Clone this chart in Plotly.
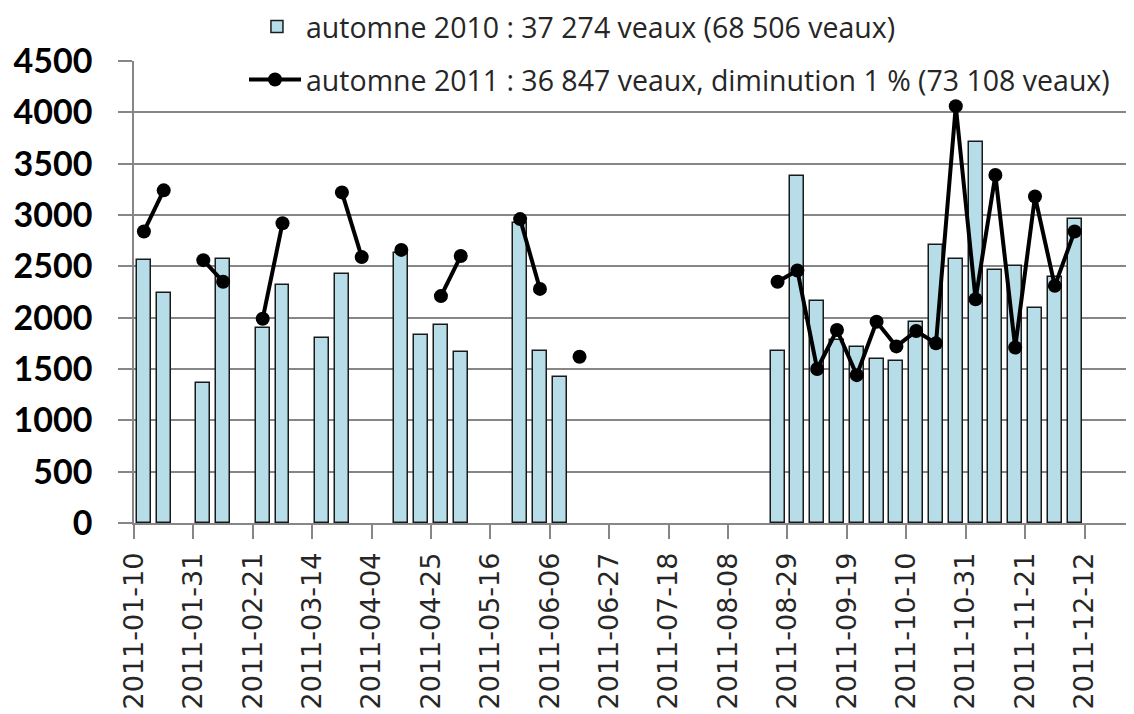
import plotly.graph_objects as go

# week index 0 = 2011-01-10, weekly steps
weeks = list(range(48))

autumn_2010 = [2560, 2240, None, 1360, 2575, None, 1900, 2320, None, 1800,
               2430, None, None, 2630, 1830, 1930, 1670, None, None, 2920,
               1680, 1420, None, None, None, None, None, None, None, None,
               None, None, 1680, 3380, 2160, 1780, 1710, 1600, 1580, 1960,
               2710, 2575, 3710, 2460, 2500, 2090, 2400, 2960]

autumn_2011 = [2840, 3240, None, 2560, 2350, None, 1990, 2920, None, None,
               3220, 2590, None, 2660, None, 2210, 2600, None, None, 2960,
               2280, None, 1620, None, None, None, None, None, None, None,
               None, None, 2350, 2460, 1500, 1880, 1440, 1960, 1720, 1870,
               1750, 4060, 2180, 3390, 1710, 3180, 2310, 2840]

tick_labels = ["2011-01-10", "2011-01-31", "2011-02-21", "2011-03-14",
               "2011-04-04", "2011-04-25", "2011-05-16", "2011-06-06",
               "2011-06-27", "2011-07-18", "2011-08-08", "2011-08-29",
               "2011-09-19", "2011-10-10", "2011-10-31", "2011-11-21",
               "2011-12-12"]
tick_weeks = [3 * i for i in range(len(tick_labels))]

name_2010 = "automne 2010 : 37 274 veaux (68 506 veaux)"
name_2011 = "automne 2011 : 36 847 veaux, diminution 1 % (73 108 veaux)"

x_centers = [w + 0.5 for w in weeks]

fig = go.Figure()
fig.add_trace(go.Bar(
    x=x_centers, y=autumn_2010, width=0.7, name=name_2010,
    marker=dict(color="#B7DEE8", line=dict(color="#1a1a1a", width=1.5)),
    legend="legend", showlegend=True,
))
fig.add_trace(go.Scatter(
    x=x_centers, y=autumn_2011, mode="lines+markers", name=name_2011,
    connectgaps=False,
    line=dict(color="black", width=4),
    marker=dict(color="black", size=14),
    legend="legend2", showlegend=True,
))

legend_font = dict(family="Open Sans", size=28.5, color="#262626")
fig.update_layout(
    width=1126, height=706,
    margin=dict(l=126, r=0, t=53, b=191, autoexpand=False),
    paper_bgcolor="white", plot_bgcolor="white",
    bargap=0, showlegend=True,
    legend=dict(x=0.2131, y=0.973, xref="container", yref="container",
                xanchor="left", yanchor="middle",
                font=legend_font, bgcolor="rgba(0,0,0,0)", itemwidth=48,
                borderwidth=0),
    legend2=dict(x=0.2096, y=0.898, xref="container", yref="container",
                 xanchor="left", yanchor="middle",
                 font=legend_font, bgcolor="rgba(0,0,0,0)", itemwidth=52,
                 borderwidth=0),
    xaxis=dict(
        range=[0, 50.5], tickmode="array", tickvals=tick_weeks,
        ticktext=tick_labels, tickangle=-90,
        tickfont=dict(family="DejaVu Sans", size=27, color="#262626"),
        ticks="outside", ticklen=14, tickcolor="#868686", tickwidth=1.5,
        showline=True, linecolor="#868686", linewidth=1.5,
        showgrid=False, zeroline=False, ticklabelstandoff=3,
    ),
    yaxis=dict(
        range=[0, 4500], tickmode="array",
        tickvals=list(range(0, 4501, 500)),
        tickfont=dict(family="Lato", size=34, color="black", weight="bold"),
        ticks="outside", ticklen=14, tickcolor="#868686", tickwidth=1.5,
        showline=True, linecolor="#868686", linewidth=1.5,
        showgrid=True, gridcolor="#868686", gridwidth=1.5,
        zeroline=False, ticklabelstandoff=19,
    ),
)

fig.write_html("out.html")
